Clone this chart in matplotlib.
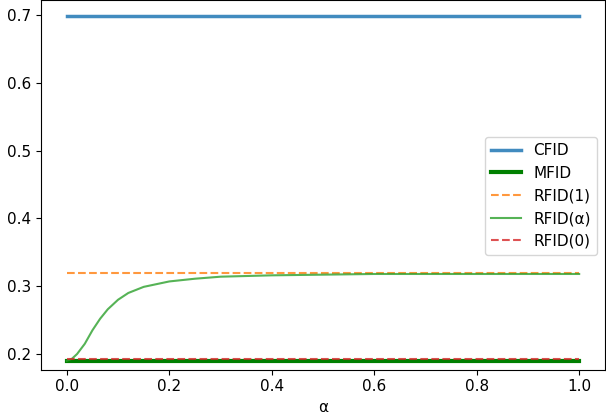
import matplotlib.pyplot as plt
import numpy as np

alpha = [0.0, 0.01, 0.02, 0.035, 0.05, 0.065, 0.08, 0.1, 0.12, 0.15, 0.2, 0.25, 0.3, 0.4, 0.5, 0.6, 0.8, 1.0]
rfid_a = [0.190, 0.193, 0.200, 0.215, 0.235, 0.252, 0.266, 0.280, 0.290, 0.299, 0.307, 0.311, 0.314, 0.316, 0.317, 0.318, 0.318, 0.318]
cfid = 0.698
mfid = 0.190
rfid1 = 0.319
rfid0 = 0.192

plt.rcParams['font.size'] = 11
fig = plt.figure(figsize=(6.06, 4.2), dpi=100)
ax = fig.add_axes([0.068, 0.12, 0.93, 0.88])
ends = [alpha[0], alpha[-1]]
ax.plot(ends, [cfid, cfid], color='#1f77b4', lw=2.5, alpha=0.85, label='CFID')
ax.plot(ends, [mfid, mfid], color='green', lw=3, label='MFID')
ax.plot(ends, [rfid1, rfid1], '--', color='#ff7f0e', lw=1.5, alpha=0.8, label='RFID(1)')
ax.plot(alpha, rfid_a, color='#2ca02c', lw=1.5, alpha=0.8, label='RFID(α)')
ax.plot(ends, [rfid0, rfid0], '--', color='#d62728', lw=1.5, alpha=0.8, label='RFID(0)')
ax.set_ylim(0.177, 0.722)
ax.set_xlabel('α')
ax.legend(loc='center right', bbox_to_anchor=(1.0, 0.47))
plt.savefig('out.png', dpi=100)
